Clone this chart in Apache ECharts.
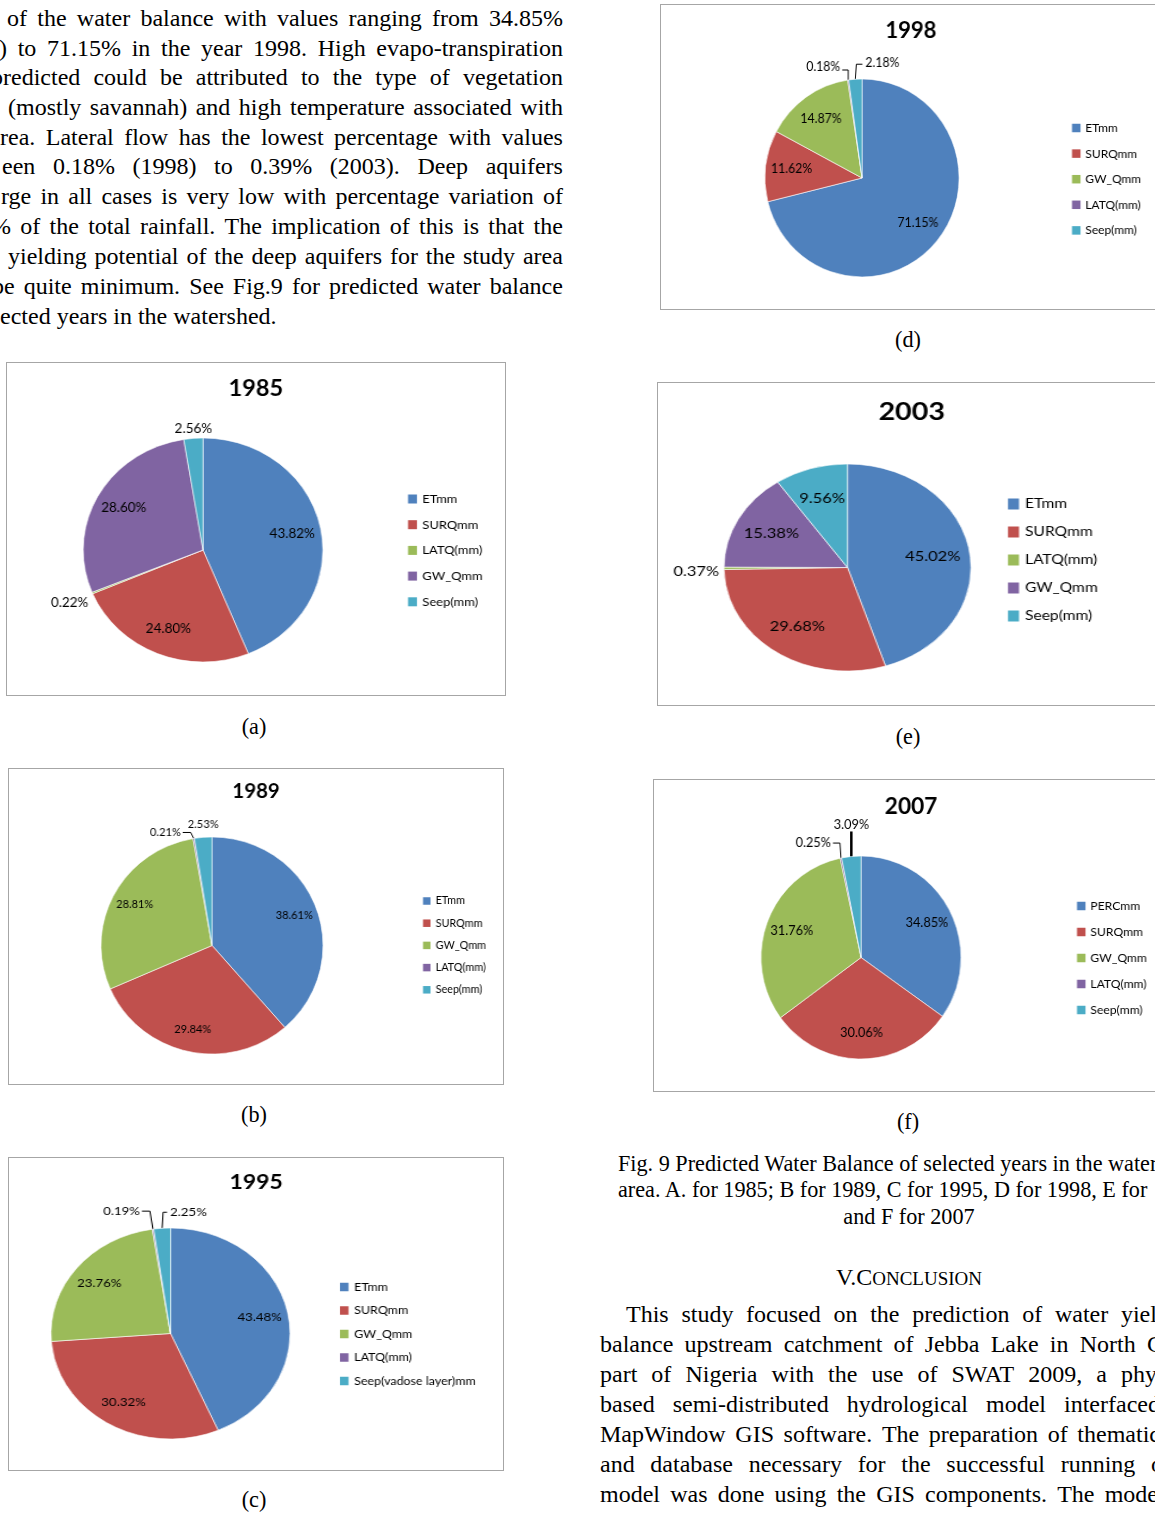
<!DOCTYPE html>
<html>
<head>
<meta charset="utf-8">
<title>Fig. 9 Predicted Water Balance</title>
<script src="https://cdn.jsdelivr.net/npm/echarts@6/dist/echarts.min.js"></script>
<style>
  html, body { margin: 0; padding: 0; background: #fff; }
  #page { position: relative; width: 1155px; height: 1515px; overflow: hidden; background: #fff;
          font-family: "Liberation Serif", "Times New Roman", serif; color: #000; }
  .ln { position: absolute; white-space: nowrap; }
  .jt { display: flex; justify-content: space-between; }
  .frame { position: absolute; box-sizing: border-box; border: 1.5px solid #a6a6a6; background: #fff; }
  .chart { position: absolute; left: -1.5px; top: -1.5px; transform-origin: 0 0; }
</style>
</head>
<body>
<div id="page"></div>
<script>
// ---- water balance shares (% of rainfall), one pie per year ----
const years = ['1985', '1989', '1995', '1998', '2003', '2007'];
const panelLetters = ['(a)', '(b)', '(c)', '(d)', '(e)', '(f)'];

const names1985 = ['ETmm', 'SURQmm', 'LATQ(mm)', 'GW_Qmm', 'Seep(mm)'];
const values1985 = [43.82, 24.80, 0.22, 28.60, 2.56];

const names1989 = ['ETmm', 'SURQmm', 'GW_Qmm', 'LATQ(mm)', 'Seep(mm)'];
const values1989 = [38.61, 29.84, 28.81, 0.21, 2.53];

const names1995 = ['ETmm', 'SURQmm', 'GW_Qmm', 'LATQ(mm)', 'Seep(vadose layer)mm'];
const values1995 = [43.48, 30.32, 23.76, 0.19, 2.25];

const names1998 = ['ETmm', 'SURQmm', 'GW_Qmm', 'LATQ(mm)', 'Seep(mm)'];
const values1998 = [71.15, 11.62, 14.87, 0.18, 2.18];

const names2003 = ['ETmm', 'SURQmm', 'LATQ(mm)', 'GW_Qmm', 'Seep(mm)'];
const values2003 = [45.02, 29.68, 0.37, 15.38, 9.56];

const names2007 = ['PERCmm', 'SURQmm', 'GW_Qmm', 'LATQ(mm)', 'Seep(mm)'];
const values2007 = [34.85, 30.06, 31.76, 0.25, 3.09];

const palette = ['#4F81BD', '#C0504D', '#9BBB59', '#8064A2', '#4BACC6'];

// ---- page layout of each framed chart (page pixels) ----
// sx: horizontal stretch of the whole chart; depth: radial position of inside labels.
// outside: small slices labelled outside, offsets measured from the slice edge point.
const panels = [
  { names: names1985, values: values1985, box: [6, 362, 500, 334], sx: 1.07, pie: [203, 550], r: 112,
    titleY: 389, titleFs: 22, leg: { x: 408, y: 499, gap: 25.7, fs: 12.1, mark: 9 }, labelFs: 12.6, depth: 0.72,
    outside: { 2: { lab: [-4, 10], align: 'right' }, 4: { lab: [0, -9], align: 'center' } },
    cap: [254, 727] },
  { names: names1989, values: values1989, box: [8, 768, 496, 317], sx: 1.023, pie: [212, 945.5], r: 108.5,
    titleY: 792, titleFs: 20, leg: { x: 423, y: 901, gap: 22.2, fs: 10.6, mark: 7.5 }, labelFs: 10.8, depth: 0.75,
    outside: { 3: { pts: [[-3, -6], [-11, -6]], lab: [-13, -6], align: 'right' }, 4: { lab: [0, -13], align: 'center' } },
    cap: [254, 1115] },
  { names: names1995, values: values1995, box: [8, 1157, 496, 314], sx: 1.133, pie: [170.5, 1333.5], r: 105.5,
    titleY: 1182, titleFs: 20.3, leg: { x: 340, y: 1287, gap: 23.5, fs: 11, mark: 8.5 }, labelFs: 11.7, depth: 0.72,
    outside: { 3: { pts: [[-3, -18], [-11, -18]], lab: [-13, -18], align: 'right' },
               4: { pts: [[1, -16], [5, -16]], lab: [8, -16], align: 'left' } },
    cap: [254, 1500] },
  { names: names1998, values: values1998, box: [660, 4, 502, 306], sx: 0.98, pie: [862, 178], r: 99,
    titleY: 31, titleFs: 22.5, leg: { x: 1072, y: 128, gap: 25.6, fs: 12.2, mark: 8.5 }, labelFs: 12.5, depth: 0.69,
    outside: { 3: { pts: [[0, -10], [-6, -10]], lab: [-8, -13], align: 'right' },
               4: { pts: [[1, -15], [7, -15]], lab: [10, -16], align: 'left' } },
    cap: [908, 340] },
  { names: names2003, values: values2003, box: [657, 382, 510, 324], sx: 1.193, pie: [847.5, 567.5], r: 103.5,
    titleY: 412, titleFs: 24, leg: { x: 1008, y: 504, gap: 28, fs: 13.1, mark: 11 }, labelFs: 13.8, depth: 0.66,
    outside: { 2: { lab: [-5, 3], align: 'right' } },
    cap: [908, 737] },
  { names: names2007, values: values2007, box: [653, 779, 516, 313], sx: 0.985, pie: [861, 957.5], r: 101.5,
    titleY: 807, titleFs: 23, leg: { x: 1077, y: 906, gap: 26, fs: 12.3, mark: 8.5 }, labelFs: 12.9, depth: 0.70,
    outside: { 3: { pts: [[-1, -15], [-8, -15]], lab: [-10, -15], align: 'right' },
               4: { from: [0, 16], pts: [[0, -12], [0, -25]], lab: [0, -32], align: 'center', lw: 2.5 } },
    cap: [908, 1122] }
];

// ---- running text around the figure ----
const leftText = [
  [7, 18, 'of the water balance with values ranging from 34.85%'],
  [-1, 48, ') to 71.15% in the year 1998. High evapo-transpiration'],
  [-9, 77, 'predicted could be attributed to the type of vegetation'],
  [8, 107, '(mostly savannah) and high temperature associated with'],
  [0, 137, 'rea. Lateral flow has the lowest percentage with values'],
  [2, 166, 'een 0.18% (1998) to 0.39% (2003). Deep aquifers'],
  [1, 196, 'rge in all cases is very low with percentage variation of'],
  [-9, 226, '% of the total rainfall. The implication of this is that the'],
  [8, 256, 'yielding potential of the deep aquifers for the study area'],
  [-8, 286, 'be quite minimum. See Fig.9 for predicted water balance']
];
const leftLast = [0, 316, 'ected years in the watershed.'];

const captionText = [
  [618, 1164, 'Fig. 9 Predicted Water Balance of selected years in the water'],
  [618, 1190, 'area. A. for 1985; B for 1989, C for 1995, D for 1998, E for']
];
const captionLast = [909, 1217, 'and F for 2007'];

const rightText = [
  [626, 1314, 1157, 'This study focused on the prediction of water yiel'],
  [600, 1344, 1163, 'balance upstream catchment of Jebba Lake in North C'],
  [600, 1374, 1157, 'part of Nigeria with the use of SWAT 2009, a phy'],
  [600, 1404, 1160, 'based semi-distributed hydrological model interfaced'],
  [600, 1434, 1160, 'MapWindow GIS software. The preparation of thematic'],
  [600, 1464, 1163, 'and database necessary for the successful running o'],
  [600, 1494, 1158, 'model was done using the GIS components. The mode'],
  [600, 1524, 1160, 'simulated daily for a period of 26 years (1985 \u2013 201']
];

const page = document.getElementById('page');

function addText(text, x, y, o) {
  const d = document.createElement('div');
  d.className = 'ln';
  d.style.fontSize = o.size + 'px';
  d.style.lineHeight = o.lh + 'px';
  d.style.top = (y - o.mid) + 'px';
  if (o.right != null) {
    d.classList.add('jt');
    d.style.left = x + 'px';
    d.style.width = (o.right - x) + 'px';
    text.split(' ').forEach(function (w) {
      const s = document.createElement('span');
      s.textContent = w;
      d.appendChild(s);
    });
  } else if (o.center) {
    d.style.left = (x - 300) + 'px';
    d.style.width = '600px';
    d.style.textAlign = 'center';
    d.textContent = text;
  } else {
    d.style.left = x + 'px';
    d.textContent = text;
  }
  page.appendChild(d);
  return d;
}

const body = { size: 24, lh: 30, mid: 15 };
const small = { size: 22.2, lh: 27, mid: 14 };

leftText.forEach(function (l) { addText(l[2], l[0], l[1], Object.assign({ right: 563 }, body)); });
addText(leftLast[2], leftLast[0], leftLast[1], body);

captionText.forEach(function (l) { addText(l[2], l[0], l[1], small); });
addText(captionLast[2], captionLast[0], captionLast[1], Object.assign({ center: true }, small));

// section heading in small capitals
const head = addText('V.C', 909, 1277, { size: 24, lh: 30, mid: 15, center: true });
const sc = document.createElement('span');
sc.style.fontSize = '19px';
sc.textContent = 'ONCLUSION';
head.appendChild(sc);

rightText.forEach(function (l) { addText(l[3], l[0], l[1], Object.assign({ right: l[2] }, body)); });

// ---- pies ----
function buildOption(p, year) {
  const sx = p.sx;
  const bx = p.box[0], by = p.box[1];
  const cx = (p.pie[0] - bx) / sx;
  const cy = p.pie[1] - by;
  const push = p.depth / 0.5;
  const lh = p.leg.fs + 2;

  const data = p.values.map(function (v, i) {
    const o = p.outside[i];
    return {
      name: p.names[i],
      value: v,
      label: { show: true, position: o ? 'outside' : 'inside' },
      labelLine: o
        ? { show: true, lineStyle: { color: '#000', width: o.lw || 1, opacity: o.pts ? 1 : 0 } }
        : { show: false }
    };
  });

  return {
    animation: false,
    color: palette,
    title: {
      text: year, left: 'center', top: p.titleY - by - p.titleFs / 2, padding: 0,
      textStyle: { fontFamily: 'Lato', fontWeight: 'bold', fontSize: p.titleFs, lineHeight: p.titleFs, color: '#000' }
    },
    legend: {
      orient: 'vertical', left: (p.leg.x - bx) / sx, top: p.leg.y - by - lh / 2, padding: 0,
      icon: 'rect', itemWidth: p.leg.mark / sx, itemHeight: p.leg.mark, itemGap: p.leg.gap - lh,
      selectedMode: false,
      itemStyle: { borderWidth: 0 },
      textStyle: { fontFamily: 'Lato', fontSize: p.leg.fs, lineHeight: lh, color: '#000' },
      data: p.names
    },
    series: [{
      type: 'pie',
      center: [cx, cy],
      radius: p.r,
      startAngle: 90,
      clockwise: true,
      avoidLabelOverlap: false,
      silent: true,
      itemStyle: { borderColor: '#ffffff', borderWidth: 0.6 },
      label: {
        fontFamily: 'Lato', fontSize: p.labelFs, color: '#000',
        formatter: function (q) { return q.value.toFixed(2) + '%'; }
      },
      labelLayout: function (q) {
        const o = p.outside[q.dataIndex];
        if (!o) {
          // move inside labels outwards along their own radius
          const rc = q.labelRect;
          const lx = rc.x + rc.width / 2, ly = rc.y + rc.height / 2;
          return { x: cx + (lx - cx) * push, y: cy + (ly - cy) * push, align: 'center', verticalAlign: 'middle' };
        }
        const pts = q.labelLinePoints;
        if (!pts || !pts[0]) return {};
        const e = pts[0];
        const at = function (d) { return [e[0] + d[0] / sx, e[1] + d[1]]; };
        const res = { x: e[0] + o.lab[0] / sx, y: e[1] + o.lab[1], align: o.align, verticalAlign: 'middle' };
        if (o.pts) res.labelLinePoints = [at(o.from || [0, 0]), at(o.pts[0]), at(o.pts[1])];
        return res;
      },
      data: data
    }]
  };
}

panels.forEach(function (p, i) {
  const f = document.createElement('div');
  f.className = 'frame';
  f.style.left = p.box[0] + 'px';
  f.style.top = p.box[1] + 'px';
  f.style.width = p.box[2] + 'px';
  f.style.height = p.box[3] + 'px';
  const c = document.createElement('div');
  c.className = 'chart';
  c.style.width = (p.box[2] / p.sx) + 'px';
  c.style.height = p.box[3] + 'px';
  c.style.transform = 'scaleX(' + p.sx + ')';
  f.appendChild(c);
  page.appendChild(f);
  const chart = echarts.init(c, null, { renderer: 'canvas' });
  chart.setOption(buildOption(p, years[i]));

  addText(panelLetters[i], p.cap[0], p.cap[1], Object.assign({ center: true }, small));
});
</script>
</body>
</html>
